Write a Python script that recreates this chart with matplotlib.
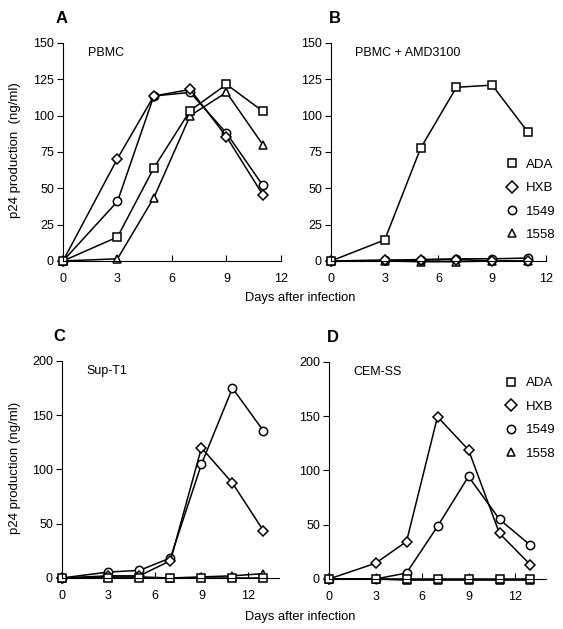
import matplotlib
matplotlib.use("Agg")
import matplotlib.pyplot as plt
from matplotlib.lines import Line2D

plt.rcParams["font.family"] = ["Liberation Sans", "DejaVu Sans"]

days_ab = [0, 3, 5, 7, 9, 11]
days_cd = [0, 3, 5, 7, 9, 11, 13]
strains = ["ADA", "HXB", "1549", "1558"]
markers = {"ADA": "s", "HXB": "D", "1549": "o", "1558": "^"}

# panel A - PBMC
a_ada = [0, 16.5, 64, 103.5, 121.5, 103]
a_hxb = [0, 70.5, 113.5, 118, 85.5, 45.5]
a_1549 = [0, 41, 113.5, 116, 88, 52]
a_1558 = [0, 1.5, 43.5, 100, 116, 80]

# panel B - PBMC + AMD3100
b_ada = [0, 14.5, 77.5, 119.5, 121, 88.5]
b_hxb = [0, 0.5, 0.5, 1, 0, 0]
b_1549 = [0, 0.5, 1, 1.5, 1.5, 2]
b_1558 = [0, 0, -0.5, -0.5, 0, 0]

# panel C - Sup-T1
c_ada = [0, 0, 0, 0, 0, 0, 0]
c_hxb = [0, 2, 2, 16, 120, 87.5, 43.5]
c_1549 = [0, 5.5, 7, 18.5, 105, 175, 135.5]
c_1558 = [0, 1, 1, 0, 1, 2, 4]

# panel D - CEM-SS
d_ada = [0, 0, 0, 0, 0, 0, 0]
d_hxb = [0, 14.5, 34.5, 149.5, 119, 42, 13]
d_1549 = [0, 0, 5.5, 48.5, 94.5, 55, 31]
d_1558 = [0, 0, -1, -1, -1, -1, -1]

panels = [
    ("A", -0.036, "PBMC", days_ab, {"ADA": a_ada, "HXB": a_hxb, "1549": a_1549, "1558": a_1558},
     [0.1119, 0.5851, 0.3872, 0.3466], (0, 12), (0, 150), [0, 25, 50, 75, 100, 125, 150], None),
    ("B", -0.012, "PBMC + AMD3100", days_ab, {"ADA": b_ada, "HXB": b_hxb, "1549": b_1549, "1558": b_1558},
     [0.5879, 0.5851, 0.3819, 0.3466], (0, 12), (0, 150), [0, 25, 50, 75, 100, 125, 150], (0.81, 0.47)),
    ("C", -0.04, "Sup-T1", days_cd, {"ADA": c_ada, "HXB": c_hxb, "1549": c_1549, "1558": c_1558},
     [0.1101, 0.0811, 0.3854, 0.3450], (0, 14), (0, 200), [0, 50, 100, 150, 200], None),
    ("D", -0.01, "CEM-SS", days_cd, {"ADA": d_ada, "HXB": d_hxb, "1549": d_1549, "1558": d_1558},
     [0.5844, 0.0795, 0.3854, 0.3450], (0, 14), (0, 200), [0, 50, 100, 150, 200], (0.81, 0.93)),
]

fig = plt.figure(figsize=(5.63, 6.29), dpi=100)

for letter, lx, title, days, series, rect, xl, yl, yticks, leg in panels:
    ax = fig.add_axes(rect)
    for name in ["1558", "1549", "HXB", "ADA"]:
        ms = 6 if markers[name] != "D" else 5.5
        ax.plot(days, series[name], color="black", lw=1.1, marker=markers[name],
                markersize=ms, markerfacecolor="white", markeredgecolor="black",
                markeredgewidth=1.1, clip_on=False)
    ax.set_xlim(*xl)
    ax.set_ylim(*yl)
    ax.set_xticks([0, 3, 6, 9, 12])
    ax.set_yticks(yticks)
    ax.spines["top"].set_visible(False)
    ax.spines["right"].set_visible(False)
    ax.tick_params(axis="x", direction="in", length=4, labelsize=9, pad=8.5)
    ax.tick_params(axis="y", direction="out", length=4, labelsize=9, pad=2.5)
    ax.text(0.113, 0.955, title, transform=ax.transAxes, fontsize=9, va="center")
    ax.text(lx, 1.113, letter, transform=ax.transAxes, fontsize=12, fontweight="bold", va="center")
    if leg is not None:
        handles = [Line2D([], [], ls="none", marker=markers[n], markersize=6,
                          markerfacecolor="white", markeredgecolor="black",
                          markeredgewidth=1.1) for n in strains]
        ax.legend(handles, strains, loc="upper left", bbox_to_anchor=leg, frameon=False,
                  fontsize=9.5, handlelength=1.0, handletextpad=0.6, labelspacing=0.85,
                  borderpad=0, borderaxespad=0)

fig.text(0.533, 1 - 298 / 629, "Days after infection", ha="center", va="center", fontsize=9.3)
fig.text(0.533, 1 - 617 / 629, "Days after infection", ha="center", va="center", fontsize=9.3)
fig.text(15 / 563, 1 - 150 / 629, "p24 production  (ng/ml)", rotation=90, ha="center", va="center", fontsize=9.5)
fig.text(15 / 563, 1 - 468 / 629, "p24 production (ng/ml)", rotation=90, ha="center", va="center", fontsize=9.5)

fig.savefig("out.png", dpi=100)
